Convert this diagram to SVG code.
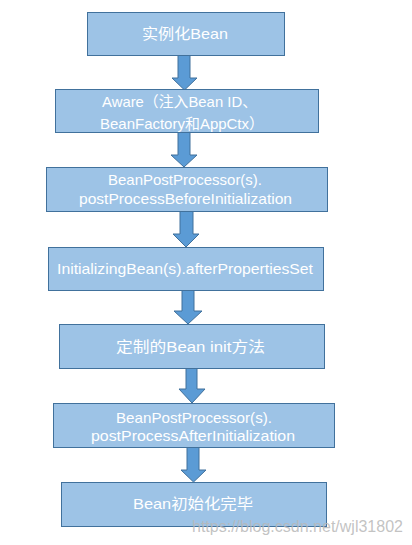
<svg xmlns="http://www.w3.org/2000/svg" width="412" height="545" viewBox="0 0 412 545">
<style>
.box{fill:#9DC3E6;stroke:#41719C;stroke-width:1}
.arr{fill:#5B9BD5;stroke:#41719C;stroke-width:1}
.t{fill:#ffffff;font-family:"Liberation Sans","Noto Sans CJK SC",sans-serif;font-size:15px}
.wm{fill:#b8b8b8;fill-opacity:0.85;font-family:"Liberation Sans",sans-serif;font-size:17px}
</style>
<rect width="412" height="545" fill="#ffffff"/>
<g id="connectors">
<polygon class="arr" points="178,55 190,55 190,78 197,78 184.5,90 172,78 178,78"/>
<polygon class="arr" points="178,132 190,132 190,155 197,155 184,167 171,155 178,155"/>
<polygon class="arr" points="180,211 193,211 193,234 199,234 186,247 173,234 180,234"/>
<polygon class="arr" points="182,290 194,290 194,311 202,311 188,324 174,311 182,311"/>
<polygon class="arr" points="186,368 197,368 197,389 205,389 192,403 179,389 186,389"/>
<polygon class="arr" points="187,447 199,447 199,470 206,470 193.5,482 181,470 187,470"/>
</g>
<g id="n1"><rect class="box" x="87.5" y="12.5" width="197" height="43"/><text class="t" x="142" y="39" textLength="86" lengthAdjust="spacingAndGlyphs">实例化Bean</text></g>
<g id="n2"><rect class="box" x="55.5" y="89.5" width="263" height="43"/><text class="t" x="102" y="107" textLength="155" lengthAdjust="spacingAndGlyphs">Aware（注入Bean ID、</text><text class="t" x="100" y="129" textLength="164" lengthAdjust="spacingAndGlyphs">BeanFactory和AppCtx）</text></g>
<g id="n3"><rect class="box" x="46.5" y="167.5" width="281" height="44"/><text class="t" x="108" y="185" textLength="154" lengthAdjust="spacingAndGlyphs">BeanPostProcessor(s).</text><text class="t" x="79" y="204" textLength="213" lengthAdjust="spacingAndGlyphs">postProcessBeforeInitialization</text></g>
<g id="n4"><rect class="box" x="48.5" y="247.5" width="275" height="43"/><text class="t" x="57" y="274" textLength="256" lengthAdjust="spacingAndGlyphs">InitializingBean(s).afterPropertiesSet</text></g>
<g id="n5"><rect class="box" x="59.5" y="324.5" width="265" height="44"/><text class="t" x="116" y="352" textLength="149" lengthAdjust="spacingAndGlyphs">定制的Bean init方法</text></g>
<g id="n6"><rect class="box" x="53.5" y="403.5" width="281" height="44"/><text class="t" x="116" y="423" textLength="156" lengthAdjust="spacingAndGlyphs">BeanPostProcessor(s).</text><text class="t" x="91" y="441" textLength="204" lengthAdjust="spacingAndGlyphs">postProcessAfterInitialization</text></g>
<g id="n7"><rect class="box" x="61.5" y="482.5" width="265" height="44"/><text class="t" x="133" y="509" textLength="120" lengthAdjust="spacingAndGlyphs">Bean初始化完毕</text></g>
<text class="wm" x="192" y="532" textLength="211" lengthAdjust="spacingAndGlyphs">https://blog.csdn.net/wjl31802</text>
</svg>
